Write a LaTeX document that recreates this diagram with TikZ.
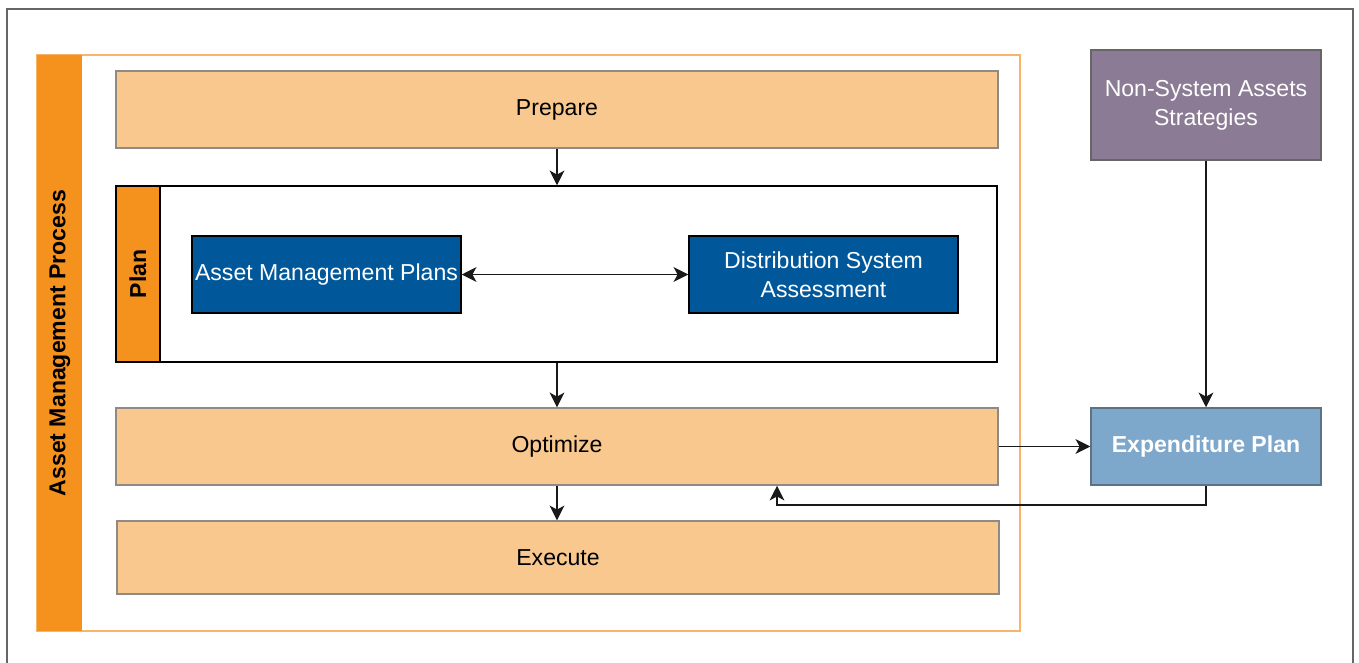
\documentclass[tikz,border=0pt]{standalone}
\usepackage{fontspec}
\setmainfont{Liberation Sans}
\usetikzlibrary{arrows.meta,positioning,fit}

\definecolor{framegray}{HTML}{666666}
\definecolor{amporange}{HTML}{F5921E}
\definecolor{ampline}{HTML}{F8B469}
\definecolor{steplight}{HTML}{F8C88E}
\definecolor{stepline}{HTML}{8F8A84}
\definecolor{planblue}{HTML}{00589B}
\definecolor{nsviolet}{HTML}{8B7B94}
\definecolor{expblue}{HTML}{7EA7CC}
\definecolor{expline}{HTML}{5E7286}

\tikzset{
  box/.style={inner sep=0pt, line width=1.1pt, align=center,
    font=\fontsize{17.3}{21.5}\selectfont},
  stepbox/.style={box, fill=steplight, draw=stepline},
  bluebox/.style={box, fill=planblue, draw=black, text=white},
  tip/.style={},
  connector/.style={line width=1.4pt, draw=black!90,
    -{Stealth[length=11pt, width=11pt, inset=3pt]}},
  biconnector/.style={connector,
    {Stealth[length=11pt, width=11pt, inset=3pt]}-{Stealth[length=11pt, width=11pt, inset=3pt]}},
}

\begin{document}
\begin{tikzpicture}[x=0.75pt, y=-0.75pt]
  \useasboundingbox (0,0) rectangle (1359,662);

  % outer frame
  \draw[framegray, line width=1.6pt] (7,9) rectangle (1353,690);

  % asset management process container
  \node[fit={(37,55) (1020,631)}, inner sep=0pt, draw=ampline, line width=1.5pt] (process) {};
  \fill[amporange] (37,55) rectangle (82,631);
  \node[rotate=90, font=\fontsize{17.3}{21.5}\selectfont\bfseries] (processlabel) at (60,343) {Asset Management Process};

  % process steps
  \node[stepbox, fit={(116,71) (998,148)}] (prepare) {};
  \node[box] at (prepare.center) {Prepare};

  \node[box, draw=black, fill=white, fit={(116,186) (997,362)}] (plan) {};
  \node[box, draw=black, fill=amporange, fit={(116,186) (160,362)}] (planstrip) {};
  \node[rotate=90, font=\fontsize{17.3}{21.5}\selectfont\bfseries] (planlabel) at (planstrip.center) {Plan};

  \node[bluebox, fit={(192,236) (461,313)}] (amplans) {};
  \node[box, text=white] at (amplans.center) {Asset Management Plans};
  \node[bluebox, fit={(689,236) (958,313)}] (dsa) {};
  \node[box, text=white] at (dsa.center) {Distribution System\\Assessment};

  \node[stepbox, fit={(116,408) (998,485)}] (optimize) {};
  \node[box] at (optimize.center) {Optimize};

  \node[stepbox, fit={(117,521) (999,594)}] (execute) {};
  \node[box] at (execute.center) {Execute};

  % boxes outside the process
  \node[box, fill=nsviolet, draw=framegray, fit={(1091,50) (1321,160)}] (nonsystem) {};
  \node[box, text=white] at (nonsystem.center) {Non-System Assets\\Strategies};

  \node[box, fill=expblue, draw=expline, fit={(1091,408) (1321,485)}] (expenditure) {};
  \node[box, text=white, font=\fontsize{17.3}{21.5}\selectfont\bfseries] at (expenditure.center) {Expenditure Plan};

  % connectors
  \draw[connector] (prepare.south) -- (prepare.south |- plan.north);
  \draw[connector] (prepare.south |- plan.south) -- (prepare.south |- optimize.north);
  \draw[connector] (optimize.south) -- (optimize.south |- execute.north);
  \draw[biconnector] (amplans.east) -- (dsa.west);
  \draw[connector] (optimize.east) -- (expenditure.west);
  \draw[connector] (nonsystem.south -| expenditure.north) -- (expenditure.north);
  \coordinate (return) at (777,505);
  \draw[connector] (expenditure.south) |- (return) -- (return |- optimize.south);
\end{tikzpicture}
\end{document}
